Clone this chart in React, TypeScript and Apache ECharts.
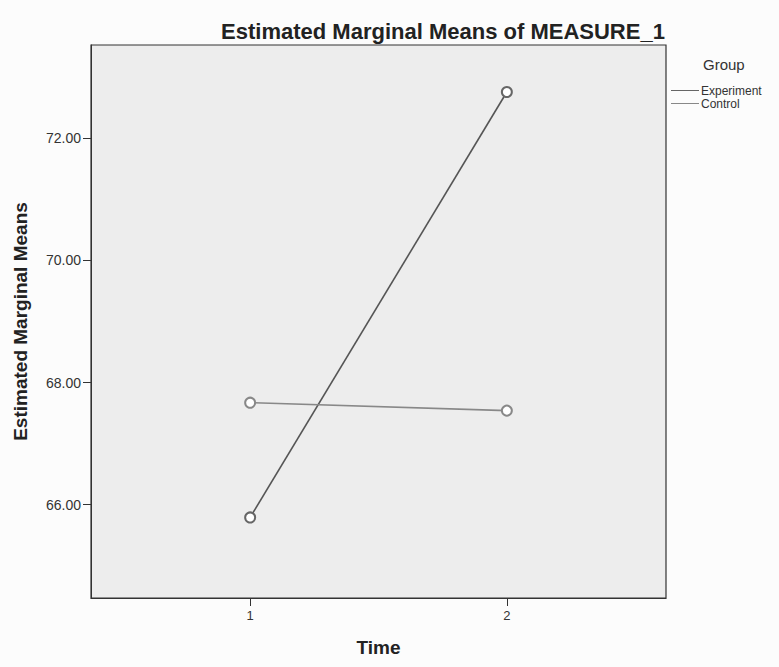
import React, { useEffect, useRef } from "react";
import * as echarts from "echarts";

const times = [1, 2];
const groups = ["Experiment", "Control"];
const experiment = [65.79, 72.76];
const control = [67.67, 67.54];
const yTicks = [66, 68, 70, 72];
const xTicks = [1, 2];

export default function App() {
  const ref = useRef<HTMLDivElement>(null);
  useEffect(() => {
    document.body.style.margin = "0";
    if (!ref.current) return;
    const chart = echarts.init(ref.current, null, { renderer: "svg" });
    const font = "Liberation Sans, Arial, sans-serif";
    chart.setOption({
      animation: false,
      backgroundColor: "#fcfcfc",
      title: [
        {
          text: "Estimated Marginal Means of MEASURE_1",
          left: 438,
          top: 15,
          textAlign: "center",
          textStyle: { fontFamily: font, fontSize: 22, fontWeight: "bold", color: "#222" },
        },
        {
          text: "Group",
          left: 698,
          top: 52,
          textStyle: { fontFamily: font, fontSize: 15, fontWeight: "normal", color: "#333" },
        },
      ],
      legend: {
        data: groups,
        orient: "vertical",
        left: 666,
        top: 79,
        itemWidth: 28,
        itemHeight: 1,
        itemGap: 0,
        icon: "rect",
        textStyle: { fontFamily: font, fontSize: 12, lineHeight: 13, color: "#333", padding: [0, 0, 0, -3] },
      },
      grid: {
        left: 91,
        right: 113,
        top: 45,
        bottom: 69,
        show: true,
        backgroundColor: "#ededed",
        borderColor: "#333",
        borderWidth: 1.2,
      },
      xAxis: {
        type: "value",
        min: 0.38,
        max: 2.62,
        name: "Time",
        nameLocation: "middle",
        nameGap: 40,
        nameTextStyle: { fontFamily: font, fontSize: 19, fontWeight: "bold", color: "#222" },
        axisLine: { show: true, lineStyle: { color: "#333" } },
        axisTick: { show: true, customValues: xTicks, length: 8, lineStyle: { color: "#333" } },
        axisLabel: {
          customValues: xTicks,
          formatter: (v: number) => String(v),
          fontFamily: font,
          fontSize: 13,
          color: "#333",
          margin: 11,
        },
        splitLine: { show: false },
      },
      yAxis: {
        type: "value",
        min: 64.47,
        max: 73.53,
        name: "Estimated Marginal Means",
        nameLocation: "middle",
        nameGap: 61,
        nameTextStyle: { fontFamily: font, fontSize: 19, fontWeight: "bold", color: "#222" },
        axisLine: { show: true, lineStyle: { color: "#333" } },
        axisTick: { show: true, customValues: yTicks, length: 8, lineStyle: { color: "#333" } },
        axisLabel: {
          customValues: yTicks,
          formatter: (v: number) => v.toFixed(2),
          fontFamily: font,
          fontSize: 14,
          color: "#333",
          margin: 10,
        },
        splitLine: { show: false },
      },
      series: [
        {
          name: groups[0],
          type: "line",
          data: times.map((t, i) => [t, experiment[i]]),
          symbol: "emptyCircle",
          symbolSize: 10,
          color: "#555",
          lineStyle: { width: 1.6, color: "#555" },
          itemStyle: { color: "#666", borderWidth: 1.4 },
        },
        {
          name: groups[1],
          type: "line",
          data: times.map((t, i) => [t, control[i]]),
          symbol: "emptyCircle",
          symbolSize: 10,
          color: "#666",
          lineStyle: { width: 1.6, color: "#888" },
          itemStyle: { color: "#888", borderWidth: 1.4 },
        },
      ],
    });
    return () => chart.dispose();
  }, []);
  return <div ref={ref} style={{ width: 779, height: 667 }} />;
}
